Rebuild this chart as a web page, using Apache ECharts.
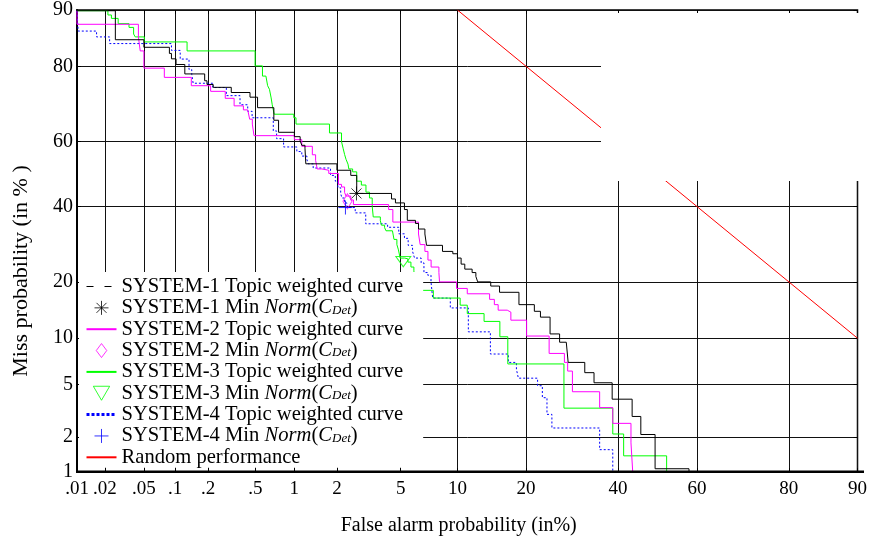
<!DOCTYPE html>
<html>
<head>
<meta charset="utf-8">
<script src="https://cdn.jsdelivr.net/npm/echarts@6/dist/echarts.min.js"></script>
<style>
  html, body { margin: 0; padding: 0; background: #fff; }
  #chart { width: 870px; height: 544px; }
</style>
</head>
<body>
<div id="chart"></div>
<script>
// tick positions (in %)
var faTicks = [0.01, 0.02, 0.05, 0.1, 0.2, 0.5, 1, 2, 5, 10, 20, 40, 60, 80, 90];
var faLabels = [".01", ".02", ".05", ".1", ".2", ".5", "1", "2", "5", "10", "20", "40", "60", "80", "90"];
var missTicks = [1, 2, 5, 10, 20, 40, 60, 80, 90];
var missLabels = ["1", "2", "5", "10", "20", "40", "60", "80", "90"];

// DET curves, [false alarm %, miss %] at each step corner
var sys1Curve = [
  [0.01, 89.9], [0.0257, 85.3], [0.05, 83.9], [0.0883, 82.7], [0.0923, 81.6], [0.102, 80.4],
  [0.123, 78.3], [0.186, 76.7], [0.195, 75.8], [0.221, 75.1], [0.316, 73.8], [0.452, 72.6],
  [0.52, 69.8], [0.699, 66.3], [0.76, 62.8], [1.0, 61.5], [1.103, 60.3], [1.134, 58.9],
  [1.196, 58.0], [1.213, 53.2], [2.0, 51.2], [2.47, 49.6], [2.70, 44.0], [4.42, 42.3],
  [4.66, 41.1], [5.25, 39.1], [5.45, 35.9], [6.05, 35.0], [6.29, 33.4], [6.81, 32.0],
  [6.95, 28.9], [8.42, 27.3], [9.49, 26.7], [10.0, 25.6], [10.42, 24.1], [10.85, 22.9],
  [11.75, 22.1], [12.23, 21.2], [12.47, 20.0], [14.27, 19.1], [15.58, 17.8], [18.74, 15.4],
  [21.51, 14.2], [22.67, 13.2], [24.57, 10.6], [26.53, 9.46], [27.95, 9.2], [28.36, 7.07],
  [32.07, 6.05], [34.22, 5.16], [38.58, 3.94], [43.55, 2.92], [45.75, 2.1], [49.39, 1.07],
  [58.0, 1.0]
];
var sys2Curve = [
  [0.01, 89.9], [0.01, 87.9], [0.0441, 85.8], [0.046, 83.2], [0.05, 79.6], [0.079, 77.5],
  [0.141, 75.5], [0.21, 74.1], [0.281, 72.3], [0.334, 70.3], [0.399, 69.2], [0.433, 68.7],
  [0.449, 66.6], [0.472, 65.2], [0.487, 61.8], [1.0, 60.6], [1.134, 58.6], [1.351, 56.0],
  [1.425, 54.3], [1.462, 51.6], [1.577, 51.2], [1.76, 50.2], [2.05, 46.8], [2.147, 46.0],
  [2.25, 44.3], [2.30, 43.2], [2.47, 42.0], [2.57, 40.6], [4.25, 39.1], [4.5, 35.4],
  [6.29, 32.0], [6.42, 29.1], [6.81, 27.3], [7.07, 25.1], [7.35, 23.4], [8.07, 22.1],
  [8.13, 20.0], [9.9, 18.6], [11.15, 17.5], [14.11, 16.4], [14.8, 15.4], [15.37, 14.4],
  [16.79, 14.05], [17.38, 12.7], [20.09, 10.3], [24.38, 8.07], [27.55, 7.07], [28.25, 6.2],
  [29.29, 4.46], [35.55, 3.41], [38.73, 2.58], [43.26, 1.79], [43.7, 1.0], [51.2, 1.0]
];
var sys3Curve = [
  [0.01, 89.9], [0.0215, 89.3], [0.0234, 88.8], [0.0275, 88.0], [0.0355, 87.4], [0.0395, 86.3],
  [0.041, 85.8], [0.0505, 84.9], [0.129, 83.2], [0.497, 80.1], [0.569, 77.8], [0.606, 77.4],
  [0.625, 75.5], [0.646, 74.6], [0.666, 72.4], [0.679, 70.6], [0.703, 68.0], [0.99, 67.0],
  [1.028, 65.2], [1.78, 62.6], [2.147, 60.0], [2.2, 58.0], [2.25, 56.1], [2.30, 54.6],
  [2.37, 53.1], [2.40, 51.6], [2.54, 50.7], [2.70, 47.8], [2.89, 46.6], [3.09, 44.4],
  [3.25, 42.6], [3.38, 40.1], [3.43, 36.9], [3.79, 35.8], [3.85, 34.5], [4.02, 33.8],
  [4.1, 32.9], [4.475, 32.4], [4.57, 30.5], [4.75, 29.1], [4.85, 27.7], [4.96, 25.6],
  [5.27, 25.4], [5.49, 24.6], [5.71, 23.4], [5.93, 22.5], [5.98, 20.9], [6.29, 20.2],
  [6.42, 18.2], [7.55, 16.65], [10.31, 15.3], [11.15, 13.8], [13.33, 12.5], [15.63, 10.2],
  [16.88, 6.91], [27.45, 3.38], [38.73, 2.12], [41.42, 1.39], [52.34, 1.0]
];
var sys4Curve = [
  [0.01, 89.9], [0.0103, 86.8], [0.0163, 85.8], [0.0224, 84.6], [0.0923, 83.3], [0.1115, 81.55],
  [0.1344, 79.3], [0.1423, 78.2], [0.1466, 76.1], [0.219, 75.05], [0.287, 73.0], [0.374, 70.6],
  [0.433, 68.8], [0.47, 67.0], [0.692, 63.2], [0.734, 60.9], [0.83, 58.4], [1.043, 57.0],
  [1.134, 55.6], [1.235, 54.55], [1.263, 53.2], [1.37, 51.9], [1.81, 49.6], [1.95, 47.8],
  [2.03, 45.75], [2.12, 44.0], [2.16, 42.6], [2.25, 41.1], [2.33, 39.7], [2.64, 38.1],
  [3.08, 34.9], [4.19, 33.9], [4.87, 32.05], [5.25, 30.8], [5.51, 28.9], [5.83, 27.3],
  [5.98, 25.6], [6.5, 24.4], [6.73, 22.1], [7.05, 21.5], [7.34, 20.0], [7.49, 16.65],
  [9.22, 14.8], [11.28, 10.9], [14.22, 8.0], [16.97, 7.07], [18.31, 6.37], [18.64, 5.55],
  [22.12, 4.92], [23.04, 4.04], [23.95, 3.03], [24.94, 2.37], [35.55, 1.57], [38.73, 1.0]
];

// minimum Norm(C_Det) points
var sys1Min = [[2.69, 44.0]];
var sys2Min = [[2.35, 41.6]];
var sys3Min = [[5.17, 24.7]];
var sys4Min = [[2.28, 39.7]];
var randomLine = [[10, 90], [90, 10]];

var names = [
  "SYSTEM-1 Topic weighted curve", "SYSTEM-1 Min Norm(CDet)",
  "SYSTEM-2 Topic weighted curve", "SYSTEM-2 Min Norm(CDet)",
  "SYSTEM-3 Topic weighted curve", "SYSTEM-3 Min Norm(CDet)",
  "SYSTEM-4 Topic weighted curve", "SYSTEM-4 Min Norm(CDet)",
  "Random performance"
];

// inverse normal cdf (Acklam)
function probit(p) {
  var a = [-3.969683028665376e+01, 2.209460984245205e+02, -2.759285104469687e+02, 1.383577518672690e+02, -3.066479806614716e+01, 2.506628277459239e+00];
  var b = [-5.447609879822406e+01, 1.615858368580409e+02, -1.556989798598866e+02, 6.680131188771972e+01, -1.328068155288572e+01];
  var c = [-7.784894002430293e-03, -3.223964580411365e-01, -2.400758277161838e+00, -2.549732539343734e+00, 4.374664141464968e+00, 2.938163982698783e+00];
  var d = [7.784695709041462e-03, 3.224671290700398e-01, 2.445134137142996e+00, 3.754408661907416e+00];
  var q, r;
  if (p < 0.02425) {
    q = Math.sqrt(-2 * Math.log(p));
    return (((((c[0] * q + c[1]) * q + c[2]) * q + c[3]) * q + c[4]) * q + c[5]) / ((((d[0] * q + d[1]) * q + d[2]) * q + d[3]) * q + 1);
  }
  if (p > 1 - 0.02425) {
    q = Math.sqrt(-2 * Math.log(1 - p));
    return -(((((c[0] * q + c[1]) * q + c[2]) * q + c[3]) * q + c[4]) * q + c[5]) / ((((d[0] * q + d[1]) * q + d[2]) * q + d[3]) * q + 1);
  }
  q = p - 0.5;
  r = q * q;
  return (((((a[0] * r + a[1]) * r + a[2]) * r + a[3]) * r + a[4]) * r + a[5]) * q / (((((b[0] * r + b[1]) * r + b[2]) * r + b[3]) * r + b[4]) * r + 1);
}
function z(pct) { return probit(pct / 100); }
function toZ(arr) { return arr.map(function (p) { return [z(p[0]), z(p[1])]; }); }
function labelFor(ticks, labels) {
  return function (v) {
    for (var i = 0; i < ticks.length; i++) {
      if (Math.abs(z(ticks[i]) - v) < 1e-6) return labels[i];
    }
    return "";
  };
}

var faZ = faTicks.map(z);
var missZ = missTicks.map(z);
var serif = "Liberation Serif";

var asterisk = "path://M0,-7L0,7M-7,0L7,0M-5,-5L5,5M-5,5L5,-5";
var plus = "path://M0,-7L0,7M-7,0L7,0";
var triDown = "path://M-7,-6L7,-6L0,6Z";

function hollow(color) {
  return { color: "none", borderColor: color, borderWidth: 1 };
}
var noMarker = { opacity: 0 };

var chart = echarts.init(document.getElementById("chart"));
chart.setOption({
  animation: false,
  grid: {
    left: 77, right: 6, top: 9, bottom: 72,
    show: true, borderColor: "#000", borderWidth: 1.5
  },
  xAxis: [{
    type: "value",
    min: z(0.01), max: z(90),
    name: "False alarm probability (in%)",
    nameLocation: "middle",
    nameGap: 44,
    nameTextStyle: { fontFamily: serif, fontSize: 20, color: "#000", padding: [0, 17, 0, 0] },
    axisLine: { show: true, onZero: false, lineStyle: { color: "#000", width: 2 } },
    axisTick: { show: true, inside: true, length: 4, customValues: faZ, lineStyle: { color: "#000" } },
    axisLabel: {
      customValues: faZ, margin: 8, formatter: labelFor(faTicks, faLabels),
      fontFamily: serif, fontSize: 19, color: "#000"
    },
    splitLine: { show: true, lineStyle: { color: "#111", width: 1 } }
  }, {
    type: "value", position: "top",
    min: z(0.01), max: z(90),
    axisLine: { show: false, onZero: false },
    axisTick: { show: true, inside: true, length: 4, customValues: faZ, lineStyle: { color: "#000" } },
    axisLabel: { show: false },
    splitLine: { show: false }
  }],
  yAxis: [{
    type: "value",
    min: z(1), max: z(90),
    name: "Miss probability (in % )",
    nameLocation: "middle",
    nameGap: 45,
    nameTextStyle: { fontFamily: serif, fontSize: 22, color: "#000", padding: [0, 60, 0, 0] },
    axisLine: { show: true, onZero: false, lineStyle: { color: "#000", width: 2 } },
    axisTick: { show: true, inside: true, length: 4, customValues: missZ, lineStyle: { color: "#000" } },
    axisLabel: {
      customValues: missZ, margin: 4, formatter: labelFor(missTicks, missLabels),
      fontFamily: serif, fontSize: 20, color: "#000"
    },
    splitLine: { show: true, lineStyle: { color: "#111", width: 1 } }
  }, {
    type: "value", position: "right",
    min: z(1), max: z(90),
    axisLine: { show: false, onZero: false },
    axisTick: { show: true, inside: true, length: 4, customValues: missZ, lineStyle: { color: "#000" } },
    axisLabel: { show: false },
    splitLine: { show: false }
  }],
  legend: {
    orient: "vertical",
    left: 79, top: 272,
    padding: [4, 20, 0, 6],
    backgroundColor: "#fff",
    itemWidth: 30, itemHeight: 14, itemGap: 0.35,
    textStyle: {
      fontFamily: serif, fontSize: 20.6, color: "#000",
      rich: {
        n: { fontFamily: serif, fontSize: 20.6, lineHeight: 18, color: "#000" },
        i: { fontFamily: serif, fontSize: 20.6, lineHeight: 18, fontStyle: "italic", color: "#000" },
        s: { fontFamily: serif, fontSize: 13, lineHeight: 2, fontStyle: "italic", verticalAlign: "bottom", color: "#000" }
      }
    },
    formatter: function (name) {
      var m = name.match(/^(SYSTEM-\d) Min Norm\(CDet\)$/);
      if (m) return "{n|" + m[1] + " Min }{i|Norm}{n|(}{i|C}{s|Det}{n|)}";
      return "{n|" + name + "}";
    },
    data: [
      { name: names[0], itemStyle: noMarker, lineStyle: { type: [7, 11], width: 1 } },
      { name: names[1], itemStyle: hollow("#000") },
      { name: names[2], itemStyle: noMarker },
      { name: names[3], itemStyle: hollow("#f0f") },
      { name: names[4], itemStyle: noMarker },
      { name: names[5], itemStyle: hollow("#0f0") },
      { name: names[6], itemStyle: noMarker, lineStyle: { type: [3, 2], width: 3 } },
      { name: names[7], itemStyle: hollow("#00f") },
      { name: names[8], itemStyle: noMarker }
    ]
  },
  graphic: [{
    type: "rect", z: 100, silent: true,
    shape: { x: 601, y: 13, width: 259, height: 168 },
    style: { fill: "#fff" }
  }, {
    // bottom frame edge, kept above the legend box
    type: "rect", z: 100, silent: true,
    shape: { x: 76, y: 470.5, width: 788, height: 2.5 },
    style: { fill: "#000" }
  }],
  series: [
    { name: names[0], type: "line", step: "end", symbol: "none", data: toZ(sys1Curve),
      lineStyle: { color: "#000", width: 1 }, itemStyle: { color: "#000" }, z: 5 },
    { name: names[1], type: "scatter", symbol: asterisk, symbolSize: 14, symbolKeepAspect: true,
      data: toZ(sys1Min), itemStyle: hollow("#000"), z: 9 },
    { name: names[2], type: "line", step: "end", symbol: "none", data: toZ(sys2Curve),
      lineStyle: { color: "#f0f", width: 1 }, itemStyle: { color: "#f0f" }, z: 4 },
    { name: names[3], type: "scatter", symbol: "path://M0,-8L6,0L0,8L-6,0Z", symbolSize: [12, 15], symbolKeepAspect: true,
      data: toZ(sys2Min), itemStyle: hollow("#f0f"), z: 9 },
    { name: names[4], type: "line", step: "end", symbol: "none", data: toZ(sys3Curve),
      lineStyle: { color: "#0f0", width: 1 }, itemStyle: { color: "#0f0" }, z: 3 },
    { name: names[5], type: "scatter", symbol: triDown, symbolSize: [15, 12], symbolKeepAspect: true,
      data: toZ(sys3Min), itemStyle: hollow("#0f0"), z: 9 },
    { name: names[6], type: "line", step: "end", symbol: "none", data: toZ(sys4Curve),
      lineStyle: { color: "#00f", width: 1, type: [2, 2] }, itemStyle: { color: "#00f" }, z: 2 },
    { name: names[7], type: "scatter", symbol: plus, symbolSize: 14, symbolKeepAspect: true,
      data: toZ(sys4Min), itemStyle: hollow("#00f"), z: 9 },
    { name: names[8], type: "line", symbol: "none", data: toZ(randomLine),
      lineStyle: { color: "#f00", width: 1 }, itemStyle: { color: "#f00" }, z: 2 }
  ]
});
</script>
</body>
</html>
